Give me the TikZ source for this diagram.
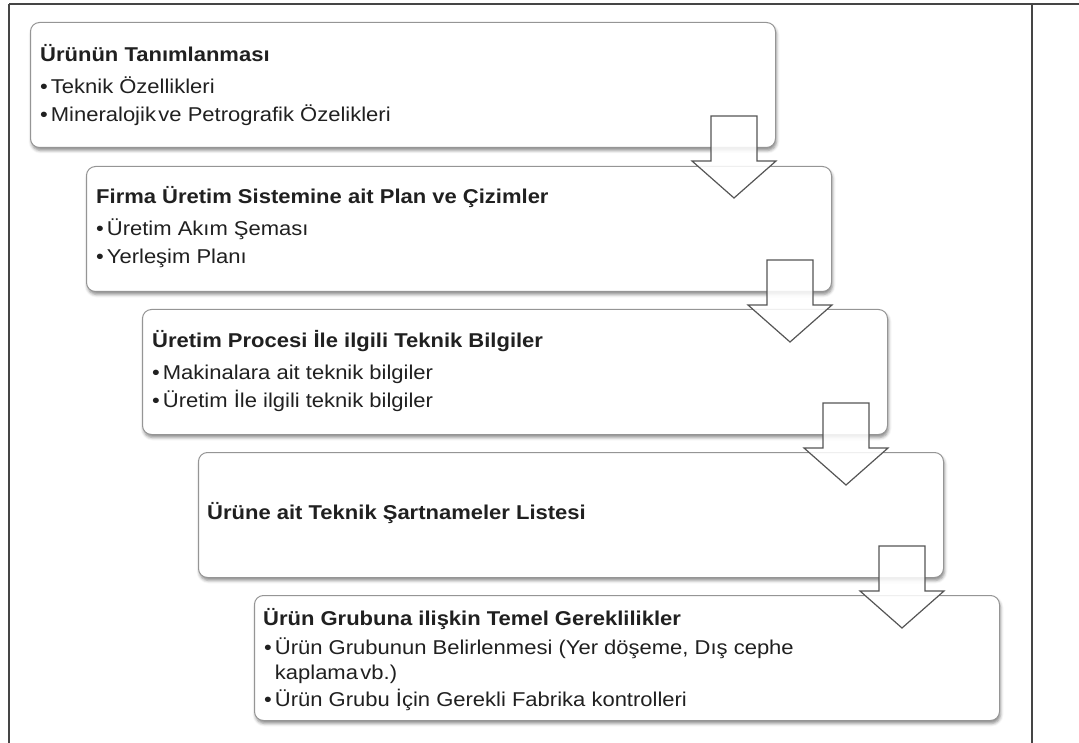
\documentclass[tikz,border=0pt]{standalone}
\usepackage{fontspec}
\setmainfont{Liberation Sans}[FakeStretch=1.1]
\usetikzlibrary{shadows.blur,calc}
\definecolor{boxgray}{HTML}{959595}
\definecolor{framegray}{HTML}{454545}
\definecolor{arrowgray}{HTML}{555555}
\definecolor{txt}{HTML}{202020}
\begin{document}
\begin{tikzpicture}[x=1pt,y=-1pt,
  box/.style={draw=boxgray, line width=1pt, rounded corners=9pt, fill=white,
    blur shadow={shadow xshift=1pt, shadow yshift=-3pt, shadow blur radius=3pt, shadow opacity=45},
    minimum width=745pt, minimum height=125pt, anchor=north west, inner sep=0pt},
  ttl/.style={anchor=base west, inner sep=0pt, text=txt, font=\fontsize{20}{24}\selectfont\bfseries},
  itm/.style={anchor=base west, inner sep=0pt, text=txt, font=\fontsize{20}{24}\selectfont},
  frame/.style={draw=framegray, line width=2.2pt},
  blockarrow/.style={draw=arrowgray, line width=1.2pt, fill=white, fill opacity=0.85, line join=miter}
]
\useasboundingbox (0,0) rectangle (1079,743);
\draw[frame] (9,4) -- (1079,4);
\draw[frame] (9,4) -- (9,743);
\draw[frame] (1032,4) -- (1032,743);

\node[box] (b1) at (30,22) {};
\node[box] (b2) at (86,166) {};
\node[box] (b3) at (142,309) {};
\node[box] (b4) at (198,452) {};
\node[box] (b5) at (254,595) {};

% box 1
\node[ttl] (t1) at ([xshift=10pt,yshift=-40pt]b1.north west) {Ürünün Tanımlanması};
\node[itm] (t1a) at ([xshift=10pt,yshift=-72pt]b1.north west) {\textbullet\hspace{3pt}Teknik Özellikleri};
\node[itm] (t1b) at ([xshift=10pt,yshift=-100pt]b1.north west) {\textbullet\hspace{3pt}Mineralojik\hspace{0.12em}ve Petrografik Özelikleri};
% box 2
\node[ttl] (t2) at ([xshift=10pt,yshift=-38pt]b2.north west) {Firma Üretim Sistemine ait Plan ve Çizimler};
\node[itm] (t2a) at ([xshift=10pt,yshift=-70pt]b2.north west) {\textbullet\hspace{3pt}Üretim Akım Şeması};
\node[itm] (t2b) at ([xshift=10pt,yshift=-98pt]b2.north west) {\textbullet\hspace{3pt}Yerleşim Planı};
% box 3
\node[ttl] (t3) at ([xshift=10pt,yshift=-39pt]b3.north west) {Üretim Procesi İle ilgili Teknik Bilgiler};
\node[itm] (t3a) at ([xshift=10pt,yshift=-70pt]b3.north west) {\textbullet\hspace{3pt}Makinalara ait teknik bilgiler};
\node[itm] (t3b) at ([xshift=10pt,yshift=-98pt]b3.north west) {\textbullet\hspace{3pt}Üretim İle ilgili teknik bilgiler};
% box 4
\node[ttl] (t4) at ([xshift=9pt,yshift=-67pt]b4.north west) {Ürüne ait Teknik Şartnameler Listesi};
% box 5
\node[ttl] (t5) at ([xshift=9pt,yshift=-30pt]b5.north west) {Ürün Grubuna ilişkin Temel Gereklilikler};
\node[itm] (t5a) at ([xshift=10pt,yshift=-59pt]b5.north west) {\textbullet\hspace{3pt}Ürün Grubunun Belirlenmesi (Yer döşeme, Dış cephe};
\node[itm] (t5b) at ([xshift=10pt,yshift=-84pt]b5.north west) {\hphantom{\textbullet\hspace{3pt}}kaplama\hspace{0.12em}vb.)};
\node[itm] (t5c) at ([xshift=10pt,yshift=-111pt]b5.north west) {\textbullet\hspace{3pt}Ürün Grubu İçin Gerekli Fabrika kontrolleri};

% block arrows
\foreach \a/\b in {b1/a1,b2/a2,b3/a3,b4/a4}{
  \coordinate (\b) at ([xshift=-42pt,yshift=32pt]\a.south east);
  \draw[blockarrow] (\b) ++(-23,0) -- ++(46,0) -- ++(0,45) -- ++(19,0) -- ++(-42,37) -- ++(-42,-37) -- ++(19,0) -- cycle;
}
\end{tikzpicture}
\end{document}
